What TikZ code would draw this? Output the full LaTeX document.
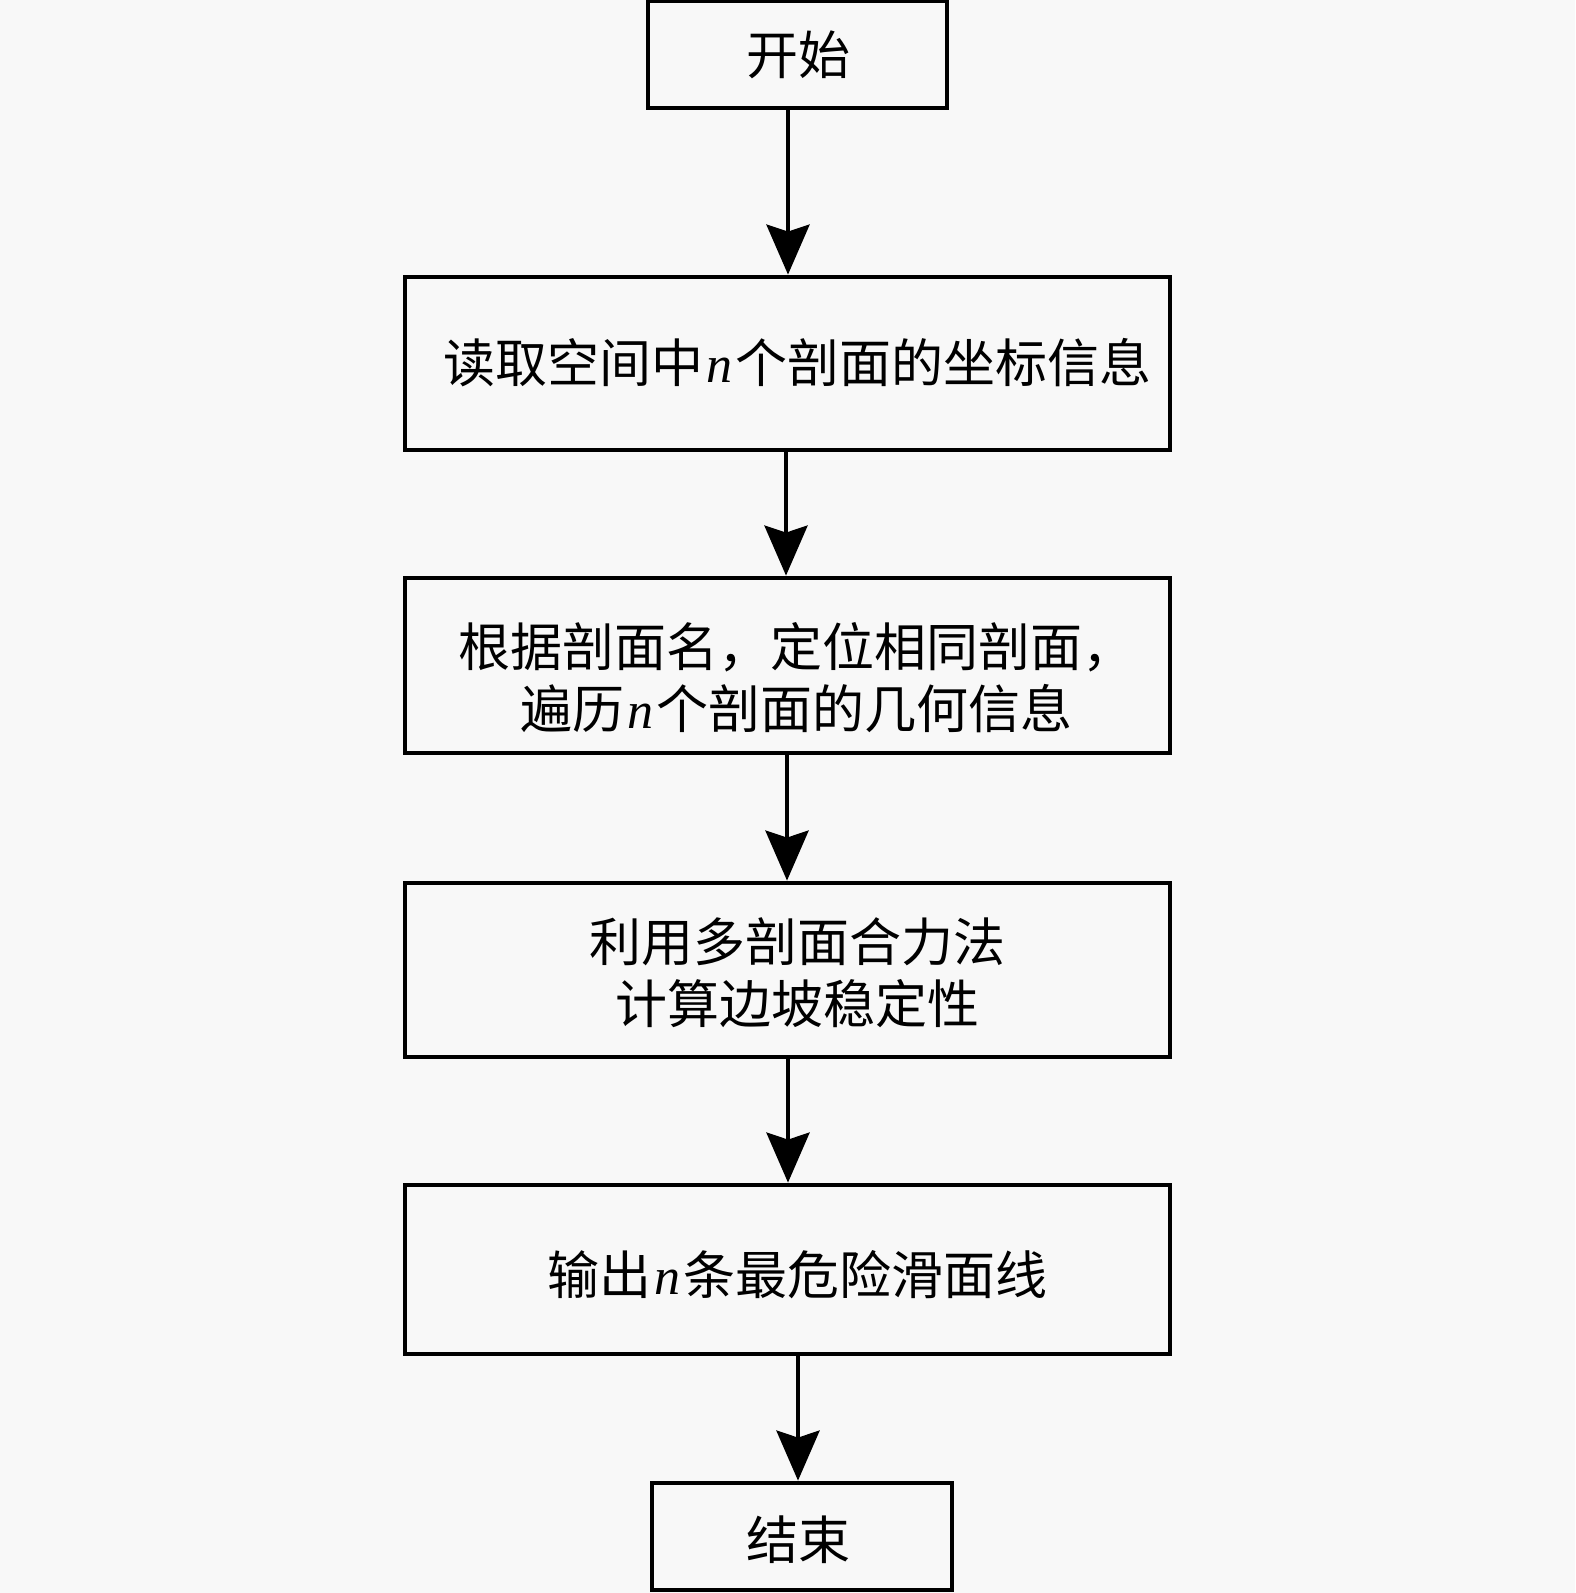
\documentclass[tikz,border=0pt]{standalone}
\usepackage{fontspec}
\setmainfont{Liberation Serif}
\newfontfamily\cjk{Noto Sans CJK SC}
\usetikzlibrary{arrows.meta}
\definecolor{bgcol}{RGB}{248,248,248}
\newcommand{\nvar}{\kern1.5pt{\rmfamily\itshape n}\kern1.5pt}
\begin{document}
\begin{tikzpicture}[x=0.5pt,y=-0.5pt,
  box/.style={draw, line width=2.4pt, fill=bgcol, inner sep=0pt, rectangle},
  txt/.style={inner sep=0pt, align=center, font=\fontsize{26pt}{31pt}\selectfont\cjk},
  arr/.style={line width=2.2pt, -{Stealth[length=25pt,width=21.5pt,inset=3.5pt]}}]
\fill[bgcol] (0,0) rectangle (1575,1593);
\useasboundingbox (0,0) rectangle (1575,1593);

% boxes
\node[box, minimum width=149.5pt, minimum height=53.5pt] (start) at (797.5,54.5) {};
\node[box, minimum width=382.5pt, minimum height=86.5pt] (b1) at (787.5,363.5) {};
\node[box, minimum width=382.5pt, minimum height=87.5pt] (b2) at (787.5,665.5) {};
\node[box, minimum width=382.5pt, minimum height=87pt] (b3) at (787.5,970) {};
\node[box, minimum width=382.5pt, minimum height=84.5pt] (b4) at (787.5,1269.5) {};
\node[box, minimum width=150pt, minimum height=53.5pt] (end) at (802,1536.5) {};

% texts
\node[txt] (tstart) at (798,55) {开始};
\node[txt] (t1) at (797,363) {读取空间中\nvar 个剖面的坐标信息};
\node[txt] (t2) at (796,678) {根据剖面名，定位相同剖面，\\遍历\nvar 个剖面的几何信息};
\node[txt] (t3) at (797,973) {利用多剖面合力法\\计算边坡稳定性};
\node[txt] (t4) at (797,1275) {输出\nvar 条最危险滑面线};
\node[txt] (tend) at (798,1540) {结束};

% arrow columns
\coordinate (x1) at (788,0);
\coordinate (x2) at (786,0);
\coordinate (x3) at (787,0);
\coordinate (x4) at (788,0);
\coordinate (x5) at (798,0);

\draw[arr] (start.south -| x1) -- (b1.north -| x1);
\draw[arr] (b1.south -| x2) -- (b2.north -| x2);
\draw[arr] (b2.south -| x3) -- (b3.north -| x3);
\draw[arr] (b3.south -| x4) -- (b4.north -| x4);
\draw[arr] (b4.south -| x5) -- (end.north -| x5);
\end{tikzpicture}
\end{document}
